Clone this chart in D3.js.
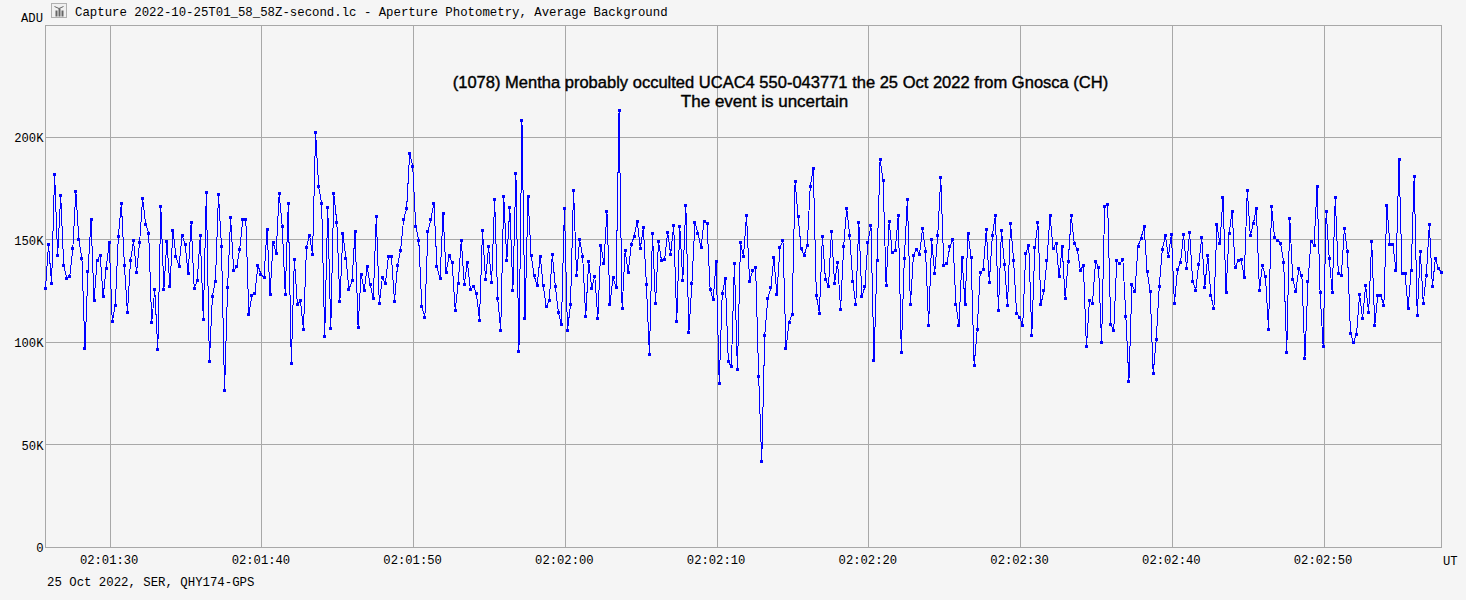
<!DOCTYPE html>
<html><head><meta charset="utf-8">
<style>
html,body{margin:0;padding:0;background:#f5f5f5;overflow:hidden}
svg{display:block}
.mono{font-family:"Liberation Mono",monospace;fill:#000}
</style>
<script src="https://cdn.jsdelivr.net/npm/d3@7/dist/d3.min.js"></script>
</head><body><svg id="c" width="1466" height="600"></svg>
<script>
const windowTitle = "Capture 2022-10-25T01_58_58Z-second.lc - Aperture Photometry, Average Background";
const footer = "25 Oct 2022, SER, QHY174-GPS";
const titleLines = ["(1078) Mentha probably occulted UCAC4 550-043771 the 25 Oct 2022 from Gnosca (CH)","The event is uncertain"];
const yTicks = [0,50000,100000,150000,200000];
const yTickLabels = ["0","50K","100K","150K","200K"];
const xTickSeconds = [30,40,50,60,70,80,90,100,110];
const xTickLabels = ["02:01:30","02:01:40","02:01:50","02:02:00","02:02:10","02:02:20","02:02:30","02:02:40","02:02:50"];
const startSecond = 25.74, frameSeconds = 0.2, yTop = 254600;
// flux in thousands of ADU, one per frame
const fluxK = [126.5,147.7,128.8,182.0,142.5,171.6,137.6,131.2,132.2,145.9,173.7,150.1,141.0,96.9,134.6,160.0,120.3,140.0,142.5,122.4,
136.3,148.8,110.2,118.2,151.7,167.8,137.7,114.6,139.8,149.6,134.1,148.6,170.3,157.6,153.2,109.7,125.8,96.5,166.5,125.8,
149.3,127.3,154.8,142.0,137.1,152.2,147.8,133.5,158.6,126.3,130.2,152.1,111.4,173.2,90.7,122.6,129.8,172.1,146.7,76.5,
126.8,160.8,135.1,137.1,145.5,160.0,160.0,113.5,122.8,123.9,137.6,133.2,131.7,155.3,123.6,149.0,143.3,172.7,156.6,123.6,
167.7,89.9,140.5,118.5,120.3,106.3,146.4,152.2,142.9,202.4,176.1,167.8,102.9,165.9,106.8,172.6,158.6,120.0,153.2,141.0,
125.8,130.1,154.0,107.3,133.3,125.4,136.9,128.1,121.6,161.5,118.8,131.7,128.6,142.0,141.8,120.0,137.6,144.9,160.0,165.4,
192.3,185.9,156.6,149.9,117.7,112.2,154.2,160.2,167.8,136.9,131.2,163.0,134.1,142.5,139.0,115.8,128.9,149.8,128.3,139.2,
125.8,127.3,123.9,110.7,154.7,130.7,146.8,129.3,169.5,121.6,105.8,171.3,140.0,165.9,125.2,182.5,95.6,208.2,111.7,171.3,
142.6,132.7,127.6,142.1,127.8,117.5,120.5,142.9,127.3,114.8,108.8,165.4,105.7,118.5,174.2,132.5,150.1,142.0,112.7,139.5,
126.5,132.2,111.7,147.3,138.5,164.1,118.5,131.7,126.8,213.1,116.4,144.7,134.0,147.7,151.9,159.1,145.9,156.1,128.4,94.3,
153.0,119.2,149.3,139.8,140.5,153.7,143.1,157.1,110.2,156.6,130.2,167.0,104.7,128.8,158.6,153.2,146.5,158.9,157.8,126.0,
120.8,139.7,79.9,123.9,131.2,90.7,88.2,138.5,86.6,148.6,142.0,162.0,129.8,135.0,136.6,83.4,42.0,103.4,121.3,126.7,
141.6,123.2,146.2,149.8,96.9,109.7,113.6,178.3,161.5,145.7,142.6,147.3,176.3,184.9,122.9,114.1,151.7,130.7,127.3,154.3,
128.8,139.0,116.2,146.8,165.4,152.2,129.9,118.5,158.6,122.6,127.1,149.0,157.1,91.0,140.2,189.2,179.1,127.8,159.1,143.9,
145.1,162.0,95.2,141.1,169.8,118.5,142.5,145.5,143.1,155.5,144.4,108.3,150.1,133.7,152.2,180.5,137.6,138.4,146.7,150.3,
118.5,108.4,141.3,118.7,153.2,141.5,88.6,106.1,134.0,135.6,155.1,129.3,152.2,162.1,115.6,154.8,138.2,118.0,157.9,140.0,
114.1,112.3,108.1,143.6,147.3,103.4,146.2,158.6,118.4,125.4,140.0,162.0,145.7,148.3,132.2,146.7,121.4,139.5,161.8,148.5,
145.4,135.3,137.6,97.8,120.5,119.2,139.5,136.8,100.0,166.4,167.2,108.8,106.0,140.0,138.5,140.5,112.5,80.9,128.3,124.9,
147.0,150.8,156.6,134.5,124.9,84.8,101.4,127.3,145.4,152.1,142.0,152.7,119.0,135.6,139.0,152.7,136.3,153.7,129.9,125.4,
138.1,151.1,126.8,142.6,122.9,116.6,157.3,148.3,170.8,124.4,153.0,163.9,136.6,140.0,140.3,131.7,174.2,152.4,157.8,165.4,
125.4,137.4,132.2,106.5,166.4,151.2,149.9,148.3,139.0,95.1,160.7,130.7,125.0,136.1,132.5,92.3,129.8,149.3,147.3,176.1,
124.2,98.0,163.9,141.0,124.5,170.6,133.7,132.7,155.6,144.2,104.5,100.0,104.0,123.4,111.7,127.8,114.6,149.3,108.3,122.9,
122.9,118.0,167.0,147.8,147.8,135.0,189.3,133.7,133.5,116.6,135.1,181.0,113.1,144.4,119.2,132.7,157.6,127.3,141.0,136.1,134.1];

const svg = d3.select("#c");
const L=45.5,R=1441.5,T=25.5,B=547.5;
const x = d3.scaleLinear().domain([startSecond,startSecond+frameSeconds*(fluxK.length-1)]).range([L,R]);
const y = d3.scaleLinear().domain([0,yTop]).range([B,T]);
const grid="#a8a8a8";

const gx = svg.append("g").attr("transform",`translate(0,${B})`)
  .call(d3.axisBottom(x).offset(0).tickValues(xTickSeconds).tickSize(-(B-T)).tickPadding(8).tickFormat((d,i)=>xTickLabels[i]));
const gy = svg.append("g").attr("transform",`translate(${L},0)`)
  .call(d3.axisLeft(y).offset(0).tickValues(yTicks).tickSize(-(R-L)).tickPadding(2).tickFormat((d,i)=>yTickLabels[i]));
[gx,gy].forEach(g=>{
  g.select(".domain").remove();
  g.selectAll("line").attr("stroke",grid).attr("stroke-width",1).attr("shape-rendering","crispEdges");
  g.selectAll("text").attr("class","mono").style("font-size","12.2px").style("fill","#000");
});
gx.selectAll("text").attr("dx",-1);
gy.selectAll("text").attr("y",1);
svg.append("rect").attr("x",L).attr("y",T).attr("width",R-L).attr("height",B-T)
  .attr("fill","none").attr("stroke",grid).attr("shape-rendering","crispEdges");

const pts = fluxK.map((v,i)=>({t:startSecond+i*frameSeconds,v:v*1000}));
svg.append("path").datum(pts)
  .attr("d",d3.line().x(d=>x(d.t)).y(d=>y(d.v)))
  .attr("fill","none").attr("stroke","#0000ff").attr("stroke-width",1).attr("shape-rendering","crispEdges");
svg.append("g").selectAll("rect").data(pts).join("rect")
  .attr("x",d=>Math.floor(x(d.t))-1).attr("y",d=>Math.floor(y(d.v))-1)
  .attr("width",3).attr("height",3).attr("fill","#0000ff").attr("shape-rendering","crispEdges");

// window icon
const ic = svg.append("g").attr("transform","translate(51.5,3.5)");
ic.append("rect").attr("width",15).attr("height",14).attr("fill","#f0f0f0").attr("stroke","#b0b0b0").attr("shape-rendering","crispEdges");
[[4,5],[7,3],[10,5]].forEach(b=>ic.append("rect").attr("x",b[0]).attr("y",b[1]+2).attr("width",2).attr("height",8-b[1]+3).attr("fill","#666"));
ic.append("path").attr("d","M3 3L7.5 5L12 3").attr("fill","none").attr("stroke","#666");

svg.append("text").attr("class","mono").attr("x",75).attr("y",16).style("font-size","12.35px").text(windowTitle);
svg.append("text").attr("class","mono").attr("x",21).attr("y",22).style("font-size","12.2px").text("ADU");
svg.append("text").attr("class","mono").attr("x",47).attr("y",586).style("font-size","12.35px").text(footer);
svg.append("text").attr("class","mono").attr("x",1443).attr("y",565).style("font-size","12.2px").text("UT");

const tc=[780.5,764.5], ty=[88,107], ts=[16.53,17];
titleLines.forEach((s,i)=>svg.append("text").attr("x",tc[i]).attr("y",ty[i]).attr("text-anchor","middle")
  .style("font-family",'"Liberation Sans",Arial,sans-serif').style("font-size",ts[i]+"px").style("fill","#000")
  .style("stroke","#000").style("stroke-width","0.4px").text(s));
</script></body></html>
